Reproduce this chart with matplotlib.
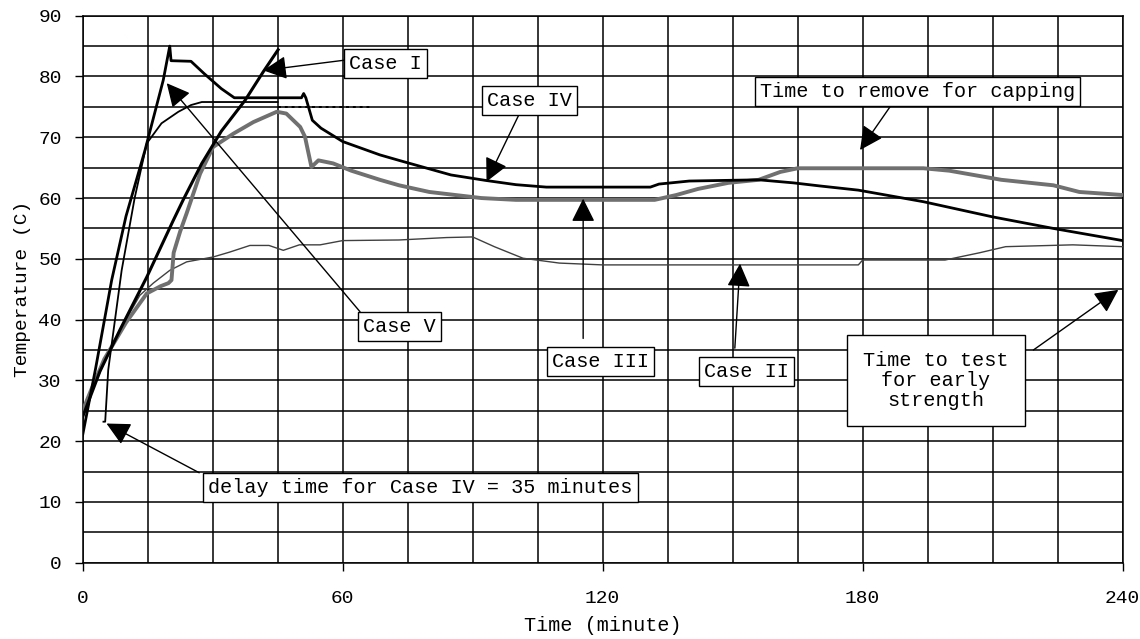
import matplotlib.pyplot as plt
from matplotlib.ticker import MultipleLocator

FONT = 'Liberation Mono'

# thick black curve: steep rise, peak, hold, slow cooling
t_a = [0, 3, 6.7, 10, 14.4, 18.6, 20.1, 20.4, 25, 28, 32, 35, 50.5, 51, 51.5, 53, 55, 60,
       68.6, 73, 80, 85, 93, 100, 107, 131, 133, 140, 156, 164, 170, 179, 194, 210, 224, 240]
temp_a = [21, 32, 46.5, 57, 67.9, 79.4, 85, 82.6, 82.5, 80.5, 78, 76.5, 76.5, 77.2, 76.5, 72.8, 71.5, 69.3,
          67.1, 66.2, 64.8, 63.8, 62.9, 62.2, 61.8, 61.8, 62.3, 62.8, 63, 62.5, 62, 61.3, 59.4, 56.9, 55, 53]

# thin black curve starting after the delay
t_b = [4.8, 5.2, 5.9, 9, 12, 14.8, 18.2, 22.1, 25, 27.5, 45]
temp_b = [23.2, 23.2, 31.7, 48.1, 60, 69, 72.3, 74.2, 75.3, 75.8, 75.8]
t_dot = [45, 66.3]
temp_dot = [75, 75]

# Case I straight heating line
t_c = [0, 4, 8.6, 14.8, 20.9, 23.2, 27.5, 32, 37.5, 41.7, 45.1]
temp_c = [24, 31.5, 38.3, 47, 56.3, 59.7, 65.7, 71, 76.1, 80.8, 84.4]

# Case III (grey)
t_g = [0, 2, 5, 10, 14.8, 18, 19.8, 20.5, 21, 22.5, 24, 27.1, 30.1, 34.8, 39.4, 44.8, 47, 50.2, 51.3, 52.8,
       54.4, 57.8, 62, 68.6, 73, 80, 86, 92, 100, 132, 137, 142, 149, 156, 161, 165, 194, 200, 204, 212,
       224, 230, 240]
temp_g = [25, 28.5, 33.5, 39.5, 44.3, 45.5, 46, 46.5, 51, 54.5, 57.5, 64, 68.4, 70.6, 72.5, 74.2, 73.9, 71.7, 70.1, 65.1,
          66.2, 65.7, 64.5, 63, 62.1, 61, 60.5, 60, 59.7, 59.7, 60.5, 61.5, 62.5, 63, 64.3, 64.9, 64.9, 64.5, 64, 63,
          62.1, 61, 60.5]

# Case II (thin)
t_d = [0, 5, 10, 13.2, 16.3, 20.1, 24, 30.1, 33.9, 38.6, 43, 46.3, 50, 54.8, 60, 73, 84, 90, 95, 101.6,
       110, 120, 179, 180, 199, 207, 213, 228.5, 240]
temp_d = [25, 33, 40, 44, 46, 48.1, 49.5, 50.3, 51.1, 52.2, 52.2, 51.4, 52.3, 52.3, 53, 53.1, 53.5, 53.6, 52, 50.1,
          49.3, 49, 49, 49.8, 49.8, 51, 52, 52.3, 52]

fig = plt.figure(figsize=(11.4, 6.39), dpi=100)
ax = fig.add_axes([0.0725, 0.1194, 0.9123, 0.856])

ax.plot(t_d, temp_d, color='#404040', lw=1.0, zorder=3)
ax.plot(t_g, temp_g, color='#707070', lw=2.8, zorder=3)
ax.plot(t_c, temp_c, color='black', lw=2.2, zorder=4)
ax.plot(t_b, temp_b, color='black', lw=1.3, zorder=4)
ax.plot(t_dot, temp_dot, color='black', lw=1.4, ls=(0, (1.5, 2)), zorder=4)
ax.plot(t_a, temp_a, color='black', lw=2.0, zorder=4)

ax.set_xlim(0, 240)
ax.set_ylim(0, 90)
ax.xaxis.set_major_locator(MultipleLocator(60))
ax.xaxis.set_minor_locator(MultipleLocator(15))
ax.yaxis.set_major_locator(MultipleLocator(10))
ax.yaxis.set_minor_locator(MultipleLocator(5))
ax.grid(which='both', color='black', lw=1.1)
ax.set_axisbelow(True)
ax.tick_params(which='major', direction='out', length=6, width=1.0, labelsize=14)
ax.tick_params(axis='x', which='major', pad=14)
ax.tick_params(axis='y', which='major', pad=9)
ax.tick_params(which='minor', length=0)
for lab in ax.get_xticklabels() + ax.get_yticklabels():
    lab.set_family(FONT)
for s in ax.spines.values():
    s.set_linewidth(1.1)

ax.set_xlabel('Time (minute)', family=FONT, fontsize=14.5, labelpad=6)
ax.set_ylabel('Temperature (C)', family=FONT, fontsize=14, labelpad=5)

box = dict(boxstyle='square,pad=0.25', fc='white', ec='black', lw=1.0)
arrow = dict(arrowstyle='-|>,head_length=0.6,head_width=0.3', mutation_scale=24,
             color='black', lw=1.0, shrinkA=0, shrinkB=0)

notes = [
    ('Case I', (69.8, 82.2), (60.6, 82.7), (41.7, 81)),
    ('Case IV', (103.1, 76.1), (100.8, 73.9), (93.2, 62.7)),
    ('Case V', (73.2, 38.8), (64, 41.3), (19.4, 78.9)),
    ('Case III', (119.4, 33.1), (115.5, 36.9), (115.5, 59.9)),
    ('Case II', (153.1, 31.4), (150.5, 35.3), (151.7, 49.2)),
    ('Time to remove for capping', (192.7, 77.5), (186.3, 75), (179.4, 67.9)),
    ('delay time for Case IV = 35 minutes', (78, 12.4), (26.9, 14.8), (5.5, 22.9)),
]
for txt, pos, tail, tip in notes:
    ax.annotate('', xy=tip, xytext=tail, arrowprops=arrow, zorder=5)
    ax.text(*pos, txt, family=FONT, fontsize=14.5, ha='center', va='center', bbox=box, zorder=6)

ax.annotate('', xy=(239, 44.9), xytext=(219.4, 35), arrowprops=arrow, zorder=5)
ax.text(196.9, 30.0, 'Time to test\nfor early\nstrength', family=FONT, fontsize=14.5,
        ha='center', va='center', linespacing=1.05, zorder=6,
        bbox=dict(boxstyle='square,pad=0.8', fc='white', ec='black', lw=1.0))

fig.savefig('out.png', dpi=100)
